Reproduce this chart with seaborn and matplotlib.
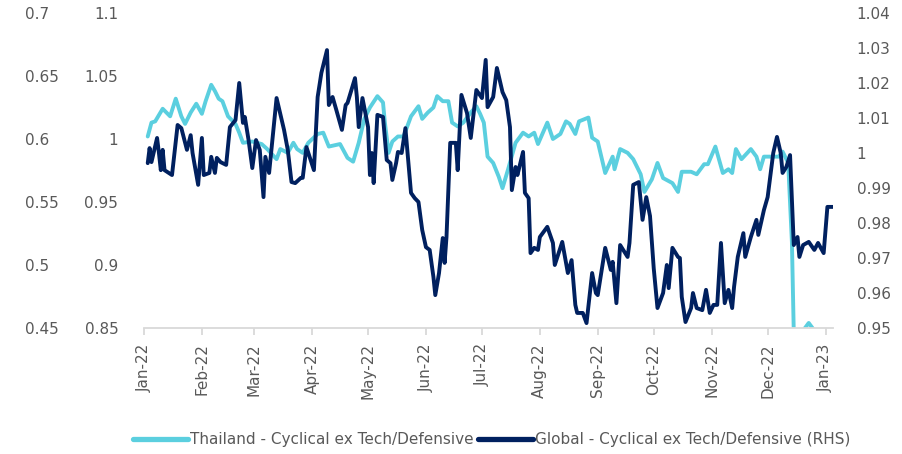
import pandas as pd
import matplotlib
matplotlib.use('Agg')
import matplotlib.pyplot as plt
import matplotlib.dates as mdates
from matplotlib.lines import Line2D
from matplotlib.ticker import FuncFormatter
import seaborn as sns

# days since 1 Jan 2022
thai_day = [2, 4, 6, 10, 14, 17, 20, 22, 25, 28,
            31, 33, 36, 38, 40, 42, 45, 49, 51, 53,
            58, 63, 66, 71, 73, 77, 80, 82, 85, 88,
            93, 96, 99, 105, 109, 112, 115, 118, 121, 125,
            128, 129, 131, 133, 136, 139, 143, 147, 149, 152,
            155, 157, 160, 163, 165, 168, 171, 175, 178, 180,
            182, 184, 187, 190, 192, 195, 199, 203, 206, 209,
            211, 216, 219, 223, 226, 228, 231, 233, 238, 240,
            243, 247, 251, 252, 255, 259, 262, 266, 268, 272,
            275, 278, 283, 286, 288, 293, 296, 300, 302, 306,
            310, 313, 315, 317, 320, 325, 328, 330, 332, 337,
            340, 342, 345, 347, 348, 352, 354, 356, 358, 360,
            364, 369]
thai_val = [1.002, 1.013, 1.014, 1.024, 1.018, 1.032, 1.018, 1.012, 1.021, 1.028,
            1.020, 1.030, 1.043, 1.038, 1.032, 1.030, 1.018, 1.012, 1.005, 0.997,
            0.998, 0.996, 0.992, 0.984, 0.992, 0.989, 0.997, 0.992, 0.989, 0.997,
            1.004, 1.005, 0.994, 0.996, 0.985, 0.982, 0.997, 1.016, 1.025, 1.034,
            1.029, 1.013, 0.989, 0.998, 1.002, 1.002, 1.018, 1.026, 1.016, 1.021,
            1.025, 1.034, 1.030, 1.030, 1.013, 1.010, 1.013, 1.021, 1.026, 1.020,
            1.013, 0.986, 0.981, 0.970, 0.961, 0.976, 0.997, 1.005, 1.002, 1.005,
            0.996, 1.013, 1.000, 1.004, 1.014, 1.012, 1.004, 1.014, 1.017, 1.001,
            0.998, 0.973, 0.986, 0.976, 0.992, 0.989, 0.984, 0.972, 0.958, 0.968,
            0.981, 0.969, 0.965, 0.958, 0.974, 0.974, 0.972, 0.980, 0.980, 0.994,
            0.973, 0.976, 0.973, 0.992, 0.984, 0.992, 0.986, 0.976, 0.986, 0.986,
            0.986, 0.990, 0.981, 0.918, 0.846, 0.846, 0.850, 0.854, 0.850, 0.846,
            0.846, 0.846]

glob_day = [2, 3, 4, 7, 8, 9, 10, 11, 15, 18,
            20, 23, 25, 26, 29, 31, 32, 35, 36, 38,
            39, 41, 44, 46, 49, 51, 53, 54, 56, 58,
            60, 62, 64, 65, 67, 71, 75, 77, 79, 81,
            84, 85, 87, 91, 93, 95, 98, 99, 101, 103,
            106, 108, 109, 113, 114, 115, 117, 120, 121, 122,
            123, 125, 128, 130, 132, 133, 135, 136, 138, 140,
            143, 145, 147, 149, 151, 153, 155, 156, 158, 160,
            161, 162, 164, 167, 168, 170, 173, 175, 178, 181,
            183, 184, 187, 189, 192, 194, 196, 197, 199, 200,
            203, 204, 206, 207, 209, 211, 212, 216, 219, 220,
            224, 227, 229, 231, 232, 235, 237, 240, 242, 243,
            247, 250, 251, 253, 255, 259, 260, 262, 265, 267,
            269, 271, 273, 275, 278, 280, 281, 283, 286, 287,
            288, 290, 293, 294, 296, 299, 301, 303, 305, 307,
            309, 311, 313, 315, 316, 318, 321, 322, 325, 328,
            329, 332, 334, 337, 339, 341, 342, 344, 346, 348,
            350, 351, 353, 356, 359, 361, 364, 366, 369]
glob_val = [0.9971, 1.0014, 0.9974, 1.0043, 1.0000, 0.9951, 1.0009, 0.9951, 0.9937, 1.0080,
            1.0071, 1.0009, 1.0051, 1.0000, 0.9909, 1.0043, 0.9937, 0.9943, 0.9989, 0.9943,
            0.9986, 0.9974, 0.9966, 1.0074, 1.0094, 1.0200, 1.0086, 1.0103, 1.0037, 0.9957,
            1.0037, 1.0009, 0.9874, 0.9989, 0.9943, 1.0157, 1.0066, 1.0009, 0.9917, 0.9914,
            0.9929, 0.9929, 1.0017, 0.9951, 1.0160, 1.0229, 1.0294, 1.0137, 1.0160, 1.0123,
            1.0066, 1.0137, 1.0143, 1.0214, 1.0160, 1.0074, 1.0157, 1.0074, 0.9937, 1.0000,
            0.9914, 1.0109, 1.0103, 0.9980, 0.9971, 0.9923, 0.9971, 1.0003, 1.0000, 1.0071,
            0.9886, 0.9871, 0.9860, 0.9780, 0.9731, 0.9723, 0.9646, 0.9594, 0.9657, 0.9757,
            0.9686, 0.9760, 1.0029, 1.0029, 0.9951, 1.0166, 1.0114, 1.0043, 1.0180, 1.0157,
            1.0266, 1.0131, 1.0160, 1.0243, 1.0174, 1.0151, 1.0074, 0.9894, 0.9960, 0.9937,
            1.0003, 0.9886, 0.9871, 0.9714, 0.9729, 0.9723, 0.9760, 0.9789, 0.9743, 0.9680,
            0.9746, 0.9657, 0.9694, 0.9566, 0.9543, 0.9543, 0.9514, 0.9657, 0.9600, 0.9594,
            0.9729, 0.9666, 0.9689, 0.9571, 0.9737, 0.9703, 0.9743, 0.9909, 0.9917, 0.9809,
            0.9874, 0.9820, 0.9670, 0.9557, 0.9600, 0.9680, 0.9614, 0.9729, 0.9703, 0.9700,
            0.9589, 0.9517, 0.9557, 0.9600, 0.9557, 0.9551, 0.9609, 0.9543, 0.9566, 0.9566,
            0.9743, 0.9571, 0.9609, 0.9557, 0.9617, 0.9703, 0.9771, 0.9703, 0.9760, 0.9809,
            0.9766, 0.9837, 0.9874, 1.0000, 1.0046, 1.0000, 0.9943, 0.9960, 0.9994, 0.9737,
            0.9760, 0.9703, 0.9737, 0.9746, 0.9723, 0.9743, 0.9714, 0.9846, 0.9846]

series_names = ['Thailand - Cyclical ex Tech/Defensive',
                'Global - Cyclical ex Tech/Defensive (RHS)']
left_ticks = [0.85, 0.9, 0.95, 1.0, 1.05, 1.1]
right_ticks = [0.95, 0.96, 0.97, 0.98, 0.99, 1.0, 1.01, 1.02, 1.03, 1.04]
outer_ticks = [0.45, 0.5, 0.55, 0.6, 0.65, 0.7]

start = pd.Timestamp('2022-01-01')
thai = pd.DataFrame({'date': start + pd.to_timedelta(thai_day, unit='D'), 'value': thai_val})
glob = pd.DataFrame({'date': start + pd.to_timedelta(glob_day, unit='D'), 'value': glob_val})

sns.set_theme(style='white')
plt.rcParams['font.family'] = ['DejaVu Sans']

cyan = '#5BCFDF'
navy = '#00205F'
grey = '#595959'
light = '#D9D9D9'
fsize = 11

fig = plt.figure(figsize=(9.02, 4.54), dpi=100)
ax = fig.add_axes([144 / 902, 1 - 328 / 454, 689 / 902, 315 / 454])
ax2 = ax.twinx()
ax3 = ax.twinx()

sns.lineplot(data=thai, x='date', y='value', ax=ax, color=cyan, linewidth=2.8, legend=False)
sns.lineplot(data=glob, x='date', y='value', ax=ax2, color=navy, linewidth=2.8, legend=False)

ax.set_xlim(start, start + pd.Timedelta(days=369))
ax.set_ylim(0.85, 1.1)
ax2.set_ylim(0.95, 1.04)
ax3.set_ylim(0.45, 0.7)
ax.set_yticks(left_ticks)
ax2.set_yticks(right_ticks)
ax3.set_yticks(outer_ticks)
fmt = FuncFormatter(lambda v, p: '{:g}'.format(round(v, 3)))
for a in (ax, ax2, ax3):
    a.yaxis.set_major_formatter(fmt)
    a.set_xlabel('')
    a.set_ylabel('')
    for s in a.spines.values():
        s.set_visible(False)

ax.spines['bottom'].set_visible(True)
ax.spines['bottom'].set_color(light)
ax.spines['bottom'].set_linewidth(1.3)

ax.xaxis.set_major_locator(mdates.MonthLocator())
ax.xaxis.set_major_formatter(mdates.DateFormatter('%b-%y'))
ax.tick_params(axis='x', bottom=True, direction='out', length=5, width=1.3,
               color=light, labelcolor=grey, labelsize=fsize, labelrotation=90, pad=6)
ax.tick_params(axis='y', left=False, length=0, labelcolor=grey, labelsize=fsize, pad=18.5)
ax2.tick_params(axis='y', right=False, length=0, labelcolor=grey, labelsize=fsize, pad=17)

ax3.yaxis.set_ticks_position('left')
ax3.yaxis.set_label_position('left')
ax3.tick_params(axis='y', left=False, right=False, labelleft=True, labelright=False,
                length=0, labelcolor=grey, labelsize=fsize, pad=86)
plt.setp(ax3.get_yticklabels(), ha='left')

handles = [Line2D([], [], color=cyan, lw=3.8), Line2D([], [], color=navy, lw=3.8)]
fig.legend(handles, series_names, loc='center', bbox_to_anchor=(0.545, 0.032), ncol=2,
           frameon=False, fontsize=fsize, labelcolor=grey, handlelength=3.6,
           handletextpad=0.1, columnspacing=0.3)

fig.savefig('out.png', dpi=100)
